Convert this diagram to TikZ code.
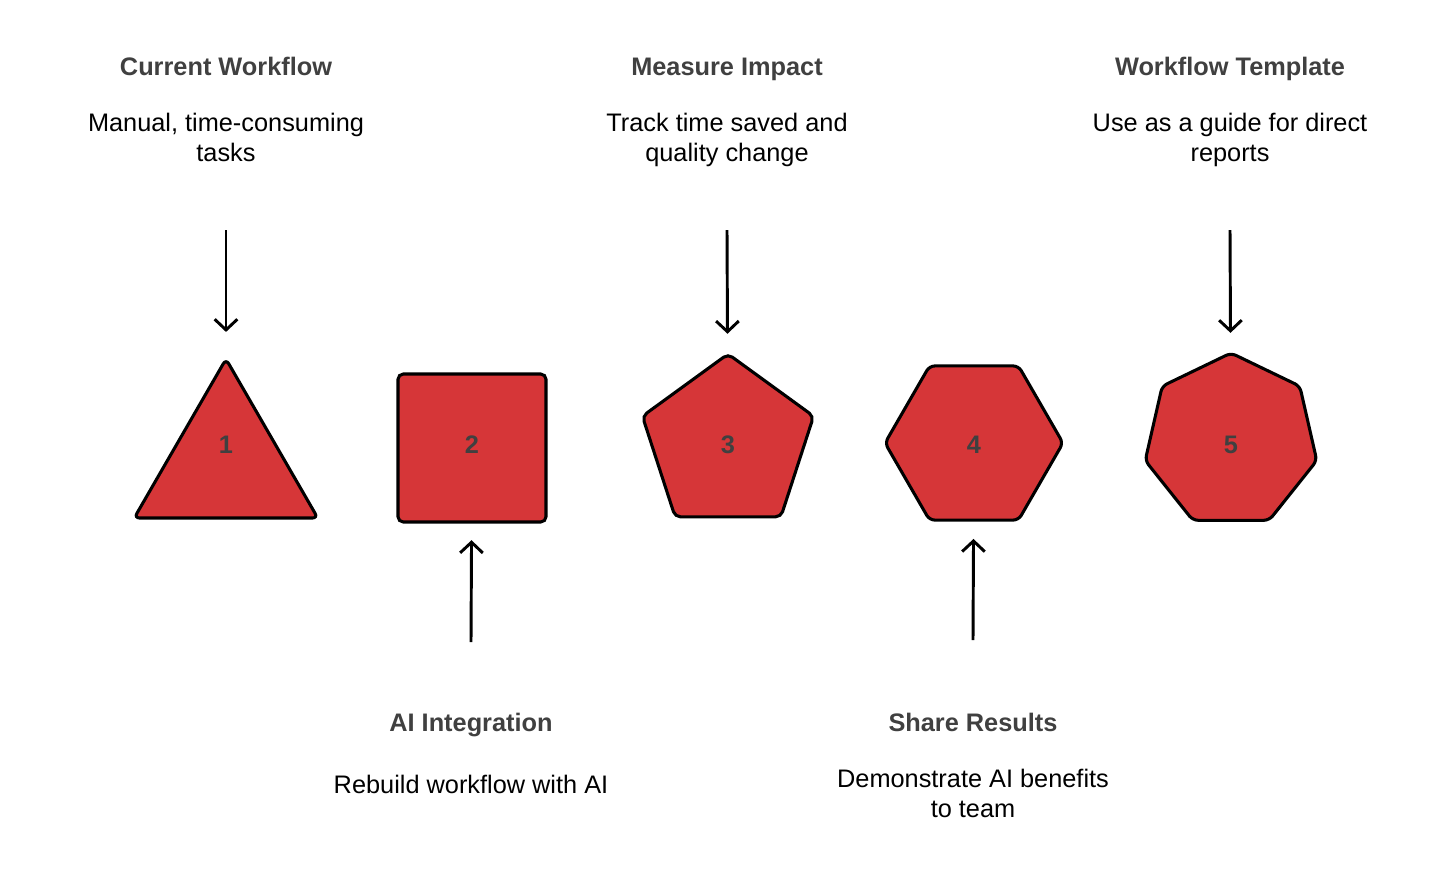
\documentclass[tikz,border=0pt]{standalone}
\usepackage{fontspec}
\setmainfont{Liberation Sans}
\usetikzlibrary{arrows.meta,shapes.geometric}
\definecolor{stepred}{HTML}{D63638}
\definecolor{headgray}{HTML}{404040}

\begin{document}
\begin{tikzpicture}[x=0.75pt, y=-0.75pt]
\tikzstyle{shp}=[regular polygon, draw=black, line width=2.3pt, fill=stepred, rounded corners=4pt, inner sep=0pt]
\tikzstyle{num}=[font=\bfseries\fontsize{19}{23}\selectfont, text=headgray]
\tikzstyle{heading}=[anchor=base, font=\bfseries\fontsize{19}{23}\selectfont, text=headgray]
\tikzstyle{desc}=[anchor=base, align=center, font=\fontsize{19}{22.5}\selectfont]
\tikzstyle{connect}=[-{Straight Barb[length=8pt, width=17pt]}, line width=2.2pt, shorten >=14pt]

  \useasboundingbox (0,0) rectangle (1456,894);

  % the five steps
  \node[shp, regular polygon sides=3, minimum size=159pt] (s1) at (226,465)  {};
  \node[shp, regular polygon sides=4, minimum size=157pt] (s2) at (472,448)  {};
  \node[shp, regular polygon sides=5, minimum size=135pt] (s3) at (728,444)  {};
  \node[shp, regular polygon sides=6, minimum size=133.5pt] (s4) at (974,443) {};
  \node[shp, regular polygon sides=7, minimum size=132pt] (s5) at (1231,441) {};

  \node[num] (n1) at (226,445)  {1};
  \node[num] (n2) at (472,445)  {2};
  \node[num] (n3) at (728,445)  {3};
  \node[num] (n4) at (974,445)  {4};
  \node[num] (n5) at (1231,445) {5};

  % texts above (desc is placed at its last baseline)
  \node[heading] (h1) at (226,75)  {Current Workflow};
  \node[desc]    (d1) at (226,161) {Manual, time-consuming\\tasks};
  \node[heading] (h3) at (727,75)  {Measure Impact};
  \node[desc]    (d3) at (727,161) {Track time saved and\\quality change};
  \node[heading] (h5) at (1230,75) {Workflow Template};
  \node[desc]    (d5) at (1230,161) {Use as a guide for direct\\reports};

  % texts below
  \node[heading] (h2) at (471,731) {AI Integration};
  \node[desc]    (d2) at (471,793) {Rebuild workflow with AI};
  \node[heading] (h4) at (973,731) {Share Results};
  \node[desc]    (d4) at (973,817) {Demonstrate AI benefits\\to team};

  % arrows
  \coordinate (a1) at (226,230);
  \coordinate (a2) at (471,642);
  \coordinate (a3) at (727,230);
  \coordinate (a4) at (973,640);
  \coordinate (a5) at (1230,230);

  \draw[connect, shorten >=18pt] (a1) -- (s1);
  \draw[connect, shorten >=12.5pt] (a2) -- (s2);
  \draw[connect] (a3) -- (s3);
  \draw[connect, shorten >=13pt] (a4) -- (s4);
  \draw[connect] (a5) -- (s5);

\end{tikzpicture}
\end{document}
